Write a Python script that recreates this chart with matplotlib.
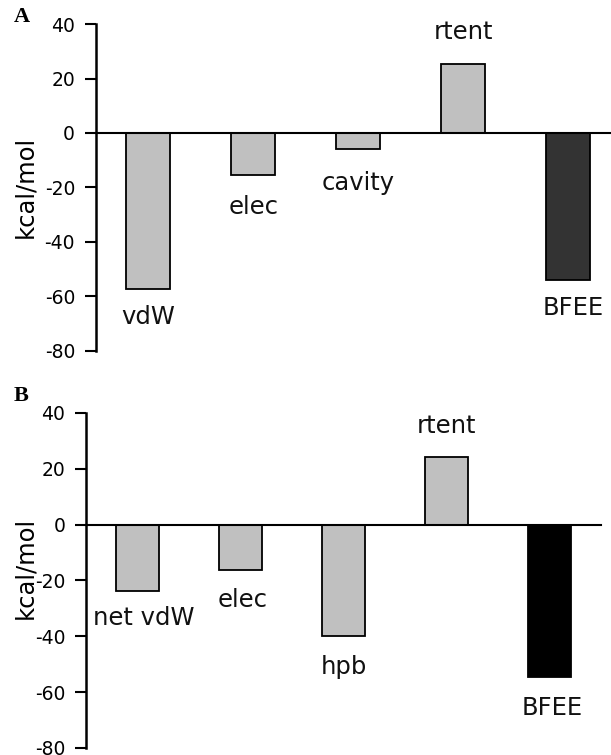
import matplotlib

matplotlib.use("Agg")

import matplotlib.pyplot as plt

# energy components, kcal/mol
labels_a = ["vdW", "elec", "cavity", "rtent", "BFEE"]
values_a = [-57.4, -15.4, -5.9, 25.4, -54.0]
labels_b = ["net vdW", "elec", "hpb", "rtent", "BFEE"]
values_b = [-23.9, -16.4, -40.0, 24.3, -54.6]
yticks = [40, 20, 0, -20, -40, -60, -80]

_GREY = "#C0C0C0"
_FONT = "DejaVu Sans"


def draw_panel(ax, labels, values, total_color, label_y, label_dx, ylabel_xy):
    x = list(range(len(values)))
    colors = [_GREY] * (len(values) - 1) + [total_color]
    ax.bar(x, values, width=0.42, color=colors, edgecolor="black", linewidth=1.3, zorder=2)
    for xi, lab, ly, dx in zip(x, labels, label_y, label_dx):
        ax.text(xi + dx, ly, lab, ha="center", va="center", fontsize=17.5, family=_FONT, color="#111111")

    ax.set_xlim(-0.5, 4.5)
    ax.set_ylim(-80, 40)
    ax.set_yticks(yticks)
    ax.set_yticklabels([str(t) for t in yticks], fontsize=13.5, family=_FONT)
    ax.set_xticks([])
    ax.spines["top"].set_visible(False)
    ax.spines["right"].set_visible(False)
    ax.spines["bottom"].set_position(("data", 0))
    ax.spines["bottom"].set_linewidth(1.5)
    ax.spines["bottom"].set_zorder(3)
    ax.spines["left"].set_linewidth(1.8)
    ax.tick_params(axis="y", direction="out", length=8, width=1.5, pad=7)
    ax.set_ylabel("kcal/mol", fontsize=17.5, family=_FONT, va="center")
    ax.yaxis.set_label_coords(*ylabel_xy)


fig = plt.figure(figsize=(6.11, 7.55), dpi=100)
ax_a = fig.add_axes([0.157, 0.5356, 0.859, 0.4325])
ax_b = fig.add_axes([0.1408, 0.0093, 0.843, 0.4437])

draw_panel(ax_a, labels_a, values_a, "#333333",
           [-67.6, -27.2, -18.4, 37.1, -64.3], [0, 0, 0, 0, 0.05], (-0.135, 0.5))
draw_panel(ax_b, labels_b, values_b, "#000000",
           [-33.6, -27.1, -51.0, 35.4, -65.7], [0.06, 0.02, 0, 0, 0.03], (-0.118, 0.537))

# panel tags
for tag, y in (("A", 1 - 17 / 755), ("B", 1 - 396 / 755)):
    fig.text(14 / 611, y, tag, fontsize=16, fontweight="bold",
             family="Liberation Serif", ha="left", va="center")

fig.savefig("out.png", dpi=100)
